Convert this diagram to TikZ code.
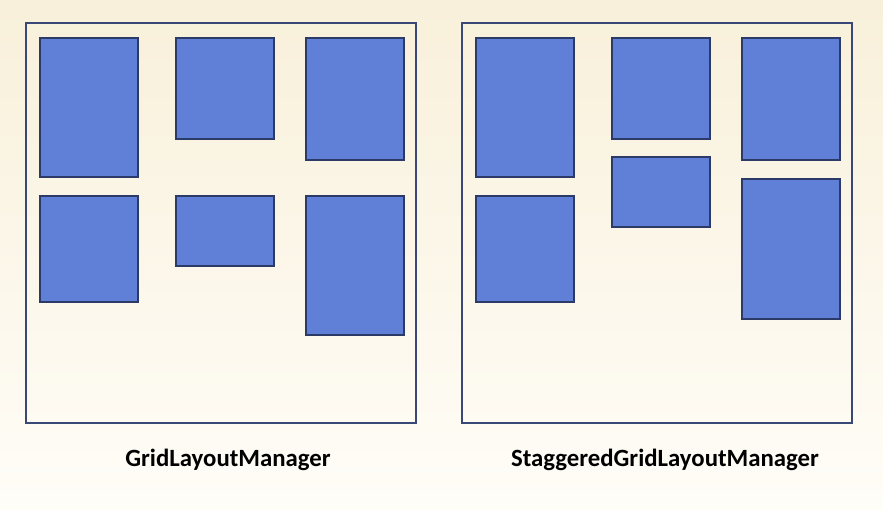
\documentclass[tikz,border=0pt]{standalone}
\usepackage{fontspec}
\setmainfont{Carlito}
\definecolor{bgtop}{RGB}{248,240,218}
\definecolor{bgbot}{RGB}{255,253,248}
\definecolor{cellfill}{RGB}{96,128,216}
\definecolor{celldraw}{RGB}{44,58,104}
\definecolor{framedraw}{RGB}{58,72,120}
\begin{document}
\begin{tikzpicture}[x=1pt,y=-1pt,
  cell/.style={fill=cellfill,draw=celldraw,line width=1.2pt},
  frame/.style={draw=framedraw,line width=1.4pt},
  caption/.style={font=\bfseries\fontsize{24.8}{29}\selectfont,text=black,inner sep=0pt}]
\shade[top color=bgtop,bottom color=bgbot] (0,0) rectangle (883,509);
\useasboundingbox (0,0) rectangle (883,509);
% left
\draw[frame] (26,23) rectangle (416,423);
\draw[cell] (40,38) rectangle (138,177);
\draw[cell] (176,38) rectangle (274,139);
\draw[cell] (306,38) rectangle (404,160);
\draw[cell] (40,196) rectangle (138,302);
\draw[cell] (176,196) rectangle (274,266);
\draw[cell] (306,196) rectangle (404,335);
% right
\draw[frame] (462,23) rectangle (852,423);
\draw[cell] (476,38) rectangle (574,177);
\draw[cell] (612,38) rectangle (710,139);
\draw[cell] (742,38) rectangle (840,160);
\draw[cell] (476,196) rectangle (574,302);
\draw[cell] (612,157) rectangle (710,227);
\draw[cell] (742,179) rectangle (840,319);
\node[caption] (capL) at (228,460) {GridLayoutManager};
\node[caption] (capR) at (665,460) {StaggeredGridLayoutManager};
\end{tikzpicture}
\end{document}
